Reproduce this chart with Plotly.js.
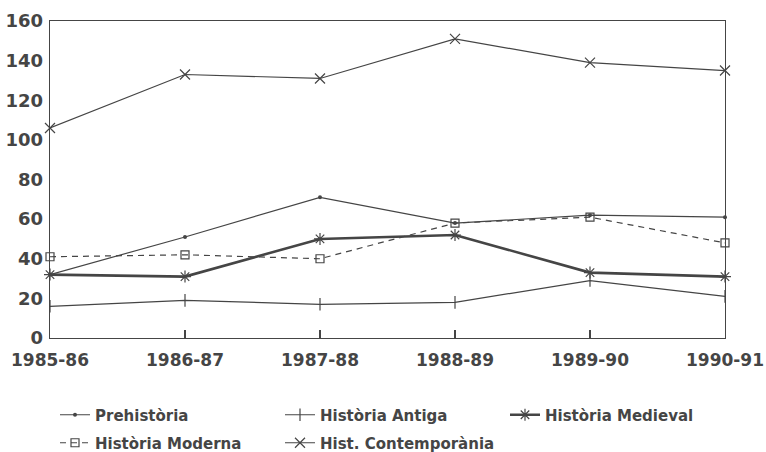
<!DOCTYPE html>
<html>
<head>
<meta charset="utf-8">
<script src="https://cdn.plot.ly/plotly-3.0.1.min.js"></script>
<style>
html,body{margin:0;padding:0;background:#fff;}
#chart{width:766px;height:452px;}
</style>
</head>
<body>
<div id="chart"></div>
<script>
const categories = ["1985-86", "1986-87", "1987-88", "1988-89", "1989-90", "1990-91"];
const prehistoria = [32, 51, 71, 58, 62, 61];
const historiaAntiga = [16, 19, 17, 18, 29, 21];
const historiaMedieval = [32, 31, 50, 52, 33, 31];
const historiaModerna = [41, 42, 40, 58, 61, 48];
const histContemporania = [106, 133, 131, 151, 139, 135];
const seriesNames = ["Prehistòria", "Història Antiga", "Història Medieval", "Història Moderna", "Hist. Contemporània"];
const yTicks = [0, 20, 40, 60, 80, 100, 120, 140, 160];

const ink = "#454545";
const W = 766, H = 452;
const M = {l: 50, r: 41, t: 21, b: 114};
const PW = W - M.l - M.r, PH = H - M.t - M.b;

function tr(name, y, opts, legendId) {
  return Object.assign({
    type: "scatter", mode: "lines+markers", name: name,
    x: categories, y: y, legend: legendId, cliponaxis: false
  }, opts);
}

const data = [
  tr(seriesNames[0], prehistoria, {
    line: {color: ink, width: 1.2},
    marker: {symbol: "circle", size: 4, color: ink}
  }, "legend"),
  tr(seriesNames[1], historiaAntiga, {
    line: {color: ink, width: 1.2},
    marker: {symbol: "line-ns-open", size: 9, line: {color: ink, width: 1.2}}
  }, "legend2"),
  tr(seriesNames[2], historiaMedieval, {
    line: {color: ink, width: 2.6},
    marker: {symbol: "asterisk-open", size: 10, line: {color: ink, width: 1.2}}
  }, "legend3"),
  tr(seriesNames[3], historiaModerna, {
    line: {color: ink, width: 1.2, dash: "6px,5px"},
    marker: {symbol: "square-open", size: 8, line: {color: ink, width: 1.2}}
  }, "legend4"),
  tr(seriesNames[4], histContemporania, {
    line: {color: ink, width: 1.2},
    marker: {symbol: "x-thin-open", size: 10, line: {color: ink, width: 1.2}}
  }, "legend5")
];

const lfont = {family: "DejaVu Sans", size: 15, color: ink, weight: "bold"};
function leg(px, py) {
  return {
    xref: "paper", yref: "paper",
    x: (px - M.l) / PW, y: (H - M.b - py) / PH, xanchor: "left", yanchor: "middle",
    orientation: "v", font: lfont, bgcolor: "rgba(0,0,0,0)", borderwidth: 0
  };
}

const layout = {
  width: W, height: H,
  margin: {l: M.l, r: M.r, t: M.t, b: M.b, pad: 0, autoexpand: false},
  paper_bgcolor: "#ffffff", plot_bgcolor: "#ffffff",
  font: {family: "DejaVu Sans", color: ink, weight: "bold"},
  showlegend: true,
  xaxis: {
    type: "category", categoryorder: "array", categoryarray: categories,
    range: [0, categories.length - 1],
    showline: true, linecolor: ink, linewidth: 1.3, mirror: true,
    ticks: "inside", ticklen: 8, tickcolor: ink, tickwidth: 1.2,
    showgrid: false, zeroline: false,
    tickfont: {family: "DejaVu Sans", size: 17, color: ink, weight: "bold"},
    ticklabelstandoff: 6
  },
  yaxis: {
    range: [0, 160], tickvals: yTicks, ticktext: yTicks.map(String),
    showline: true, linecolor: ink, linewidth: 1.3, mirror: true,
    ticks: "", showgrid: false, zeroline: false,
    tickfont: {family: "DejaVu Sans", size: 18, color: ink, weight: "bold"},
    ticklabelstandoff: 2
  },
  legend: leg(55, 415),
  legend2: leg(280, 415),
  legend3: leg(505, 415),
  legend4: leg(55, 443),
  legend5: leg(280, 443)
};

Plotly.newPlot("chart", data, layout, {staticPlot: true, displayModeBar: false});
</script>
</body>
</html>
